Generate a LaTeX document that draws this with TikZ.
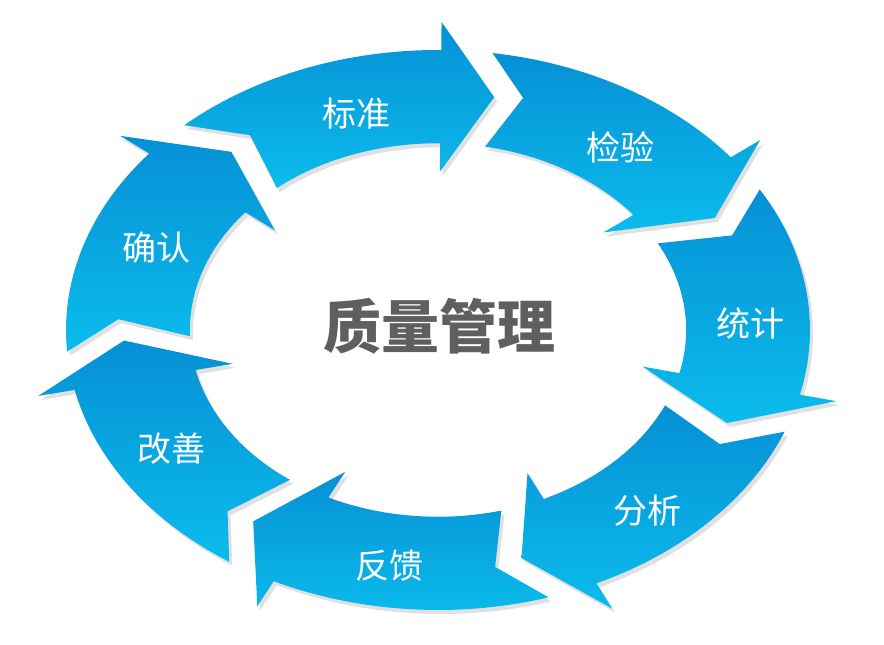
\documentclass[tikz,border=0pt]{standalone}
\usepackage{fontspec}
\setmainfont{Noto Sans CJK SC}
\definecolor{arrowtop}{HTML}{0690D5}
\definecolor{arrowbot}{HTML}{0BBCEC}
\definecolor{titlegray}{HTML}{5F5F5F}
% one curved arrow of the ring, tail at angle #1, running clockwise
\newcommand{\ringarrow}[1]{(#1:1) arc[start angle=#1, end angle=#1-43.5, radius=1] -- (#1-43.5:1.1) -- (#1-53.3:0.845) -- (#1-43.5:0.565) -- (#1-43.5:0.667) arc[start angle=#1-43.5, end angle=#1-2.5, radius=0.667] -- (#1-7:0.86) -- cycle}
\begin{document}
\begin{tikzpicture}[x=1pt, y=1pt, line join=round]
	\tikzset{label style/.style={text=white, font=\fontsize{34}{36}\selectfont},
		arrow fill/.style={top color=arrowtop, bottom color=arrowbot, draw=none}}
	\useasboundingbox (0,0) rectangle (884,645);
	\begin{scope}[shift={(441,311)}, xscale=372, yscale=280]
		\foreach \t in {133,81.57,30.14,-21.29,-72.71,-124.14,-175.57}
			\fill[black, opacity=0.12] \ringarrow{\t};
	\end{scope}
	\begin{scope}[shift={(438,315)}, xscale=372, yscale=280]
		\foreach \t/\name/\txt in {133/std/标准, 81.57/chk/检验, 30.14/stat/统计, -21.29/ana/分析, -72.71/fb/反馈, -124.14/imp/改善, -175.57/conf/确认}{
			\shade[arrow fill] \ringarrow{\t};
			\node[label style] (\name) at ({0.83*cos(\t-27)+0.01}, {0.83*sin(\t-27)-0.024}) {\txt};
		}
	\end{scope}
	\node[text=titlegray, font=\fontsize{58}{62}\selectfont\bfseries] (qm) at (439,319) {质量管理};
\end{tikzpicture}
\end{document}
